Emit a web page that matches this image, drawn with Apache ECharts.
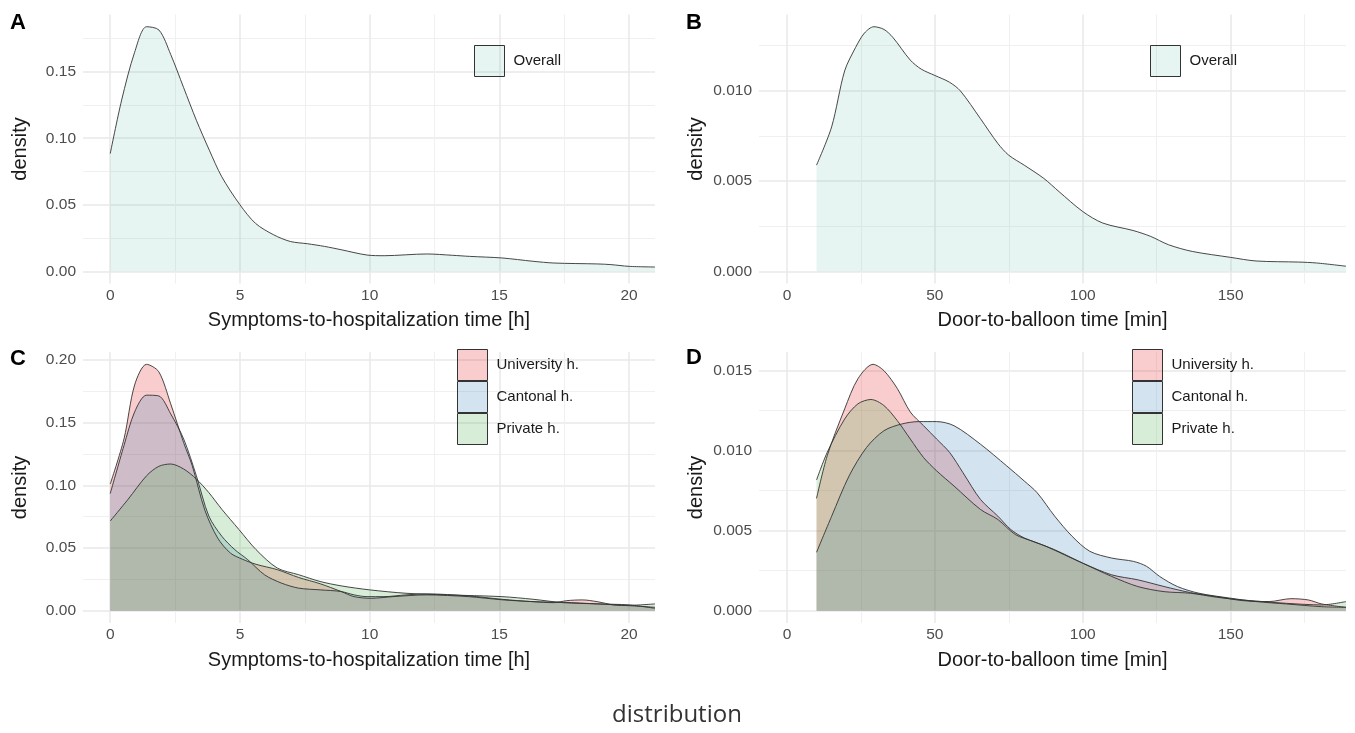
<!DOCTYPE html>
<html>
<head>
<meta charset="utf-8">
<script src="https://cdn.jsdelivr.net/npm/echarts@6/dist/echarts.min.js"></script>
<style>
  html, body { margin: 0; padding: 0; background: #ffffff; }
  #chart { width: 1355px; height: 733px; }
</style>
</head>
<body>
<div id="chart"></div>
<script>
// ---- Tick positions ----
const hourTicks = [0, 5, 10, 15, 20];
const hourMinorTicks = [2.5, 7.5, 12.5, 17.5];
const minuteTicks = [0, 50, 100, 150];
const minuteMinorTicks = [25, 75, 125, 175];
const hourLimits = [0, 21];
const minuteLimits = [0, 189];
const symptomsDensityTicks = [0, 0.05, 0.10, 0.15];
const symptomsDensityTicksByGroup = [0, 0.05, 0.10, 0.15, 0.20];
const symptomsDensityMinor = [0.025, 0.075, 0.125, 0.175];
const balloonDensityTicks = [0, 0.005, 0.010];
const balloonDensityTicksByGroup = [0, 0.005, 0.010, 0.015];
const balloonDensityMinor = [0.0025, 0.0075, 0.0125];

const groups = ['University h.', 'Cantonal h.', 'Private h.'];

// ---- Symptoms-to-hospitalization density, all patients ----
const symptomsAllX = [0, 0.44, 0.94, 1.4, 1.88, 2.33, 2.83, 3.32, 3.82, 4.3, 5, 5.6, 6.3, 6.94, 7.6, 8.26, 8.9, 9.9, 10.56, 12.2, 13.2, 13.85, 15.1, 16.3, 17.1, 18.8, 19.3, 20, 21];
const symptomsAllY = [0.0885, 0.1287, 0.1646, 0.1838, 0.1813, 0.163, 0.138, 0.1135, 0.091, 0.071, 0.05, 0.036, 0.0274, 0.0224, 0.0207, 0.0187, 0.0162, 0.0122, 0.0117, 0.013, 0.012, 0.0112, 0.01, 0.0075, 0.0062, 0.0055, 0.005, 0.0037, 0.0032];

// ---- Door-to-balloon density, all patients ----
const balloonAllX = [10, 15.1, 19.5, 23.2, 26.2, 29.4, 32.8, 35.8, 41.7, 45.4, 50, 54.9, 58.6, 65.4, 71.3, 75, 80.2, 86.8, 92, 100, 106.8, 117, 123, 129, 137, 150, 158.6, 173, 179, 189];
const balloonAllY = [0.00588, 0.0080, 0.0111, 0.0124, 0.0132, 0.01355, 0.0134, 0.01296, 0.0117, 0.0112, 0.01085, 0.01048, 0.0100, 0.00846, 0.00708, 0.00643, 0.00588, 0.00515, 0.00441, 0.00331, 0.00267, 0.00226, 0.00193, 0.00147, 0.0011, 0.00077, 0.00057, 0.00051, 0.00046, 0.00028];

// ---- Symptoms-to-hospitalization density by hospital type ----
const symptomsUniX = [0, 0.53, 0.94, 1.4, 1.87, 2.33, 2.83, 3.16, 3.65, 4.14, 4.63, 5.1, 5.62, 6.44, 7.26, 8.09, 8.9, 9.4, 10.06, 10.9, 12.2, 13.8, 15.15, 16.3, 17.1, 17.6, 18.2, 18.77, 19.4, 20, 21];
const symptomsUniY = [0.101, 0.137, 0.18, 0.1965, 0.1906, 0.165, 0.134, 0.1157, 0.080, 0.058, 0.046, 0.041, 0.037, 0.0327, 0.0265, 0.0215, 0.0153, 0.0112, 0.0099, 0.0112, 0.0126, 0.0112, 0.0086, 0.0072, 0.0064, 0.008, 0.0086, 0.0072, 0.0046, 0.004, 0.0027];
const symptomsCantX = [0, 0.53, 0.94, 1.4, 1.87, 2.33, 2.83, 3.32, 3.8, 4.3, 4.8, 5.3, 5.95, 6.6, 7.26, 8.1, 8.9, 9.4, 9.9, 10.55, 11.4, 12.2, 13.8, 15.1, 16.3, 17.45, 18.8, 20, 21];
const symptomsCantY = [0.0934, 0.1317, 0.1585, 0.1719, 0.1713, 0.157, 0.137, 0.1076, 0.0755, 0.0594, 0.0487, 0.0407, 0.0286, 0.022, 0.018, 0.0166, 0.0153, 0.0126, 0.0112, 0.0112, 0.0126, 0.0134, 0.0118, 0.0091, 0.0072, 0.0067, 0.0054, 0.0046, 0.0019];
const symptomsPrivX = [0, 0.69, 1.4, 1.87, 2.33, 2.83, 3.32, 3.8, 4.3, 4.96, 5.62, 6.44, 7.26, 8.09, 8.9, 10, 11.4, 13, 15.1, 16.3, 17.45, 18.8, 20, 21];
const symptomsPrivY = [0.0715, 0.0889, 0.1076, 0.1151, 0.117, 0.113, 0.105, 0.0942, 0.0809, 0.0648, 0.0487, 0.034, 0.0287, 0.0233, 0.0198, 0.0166, 0.0139, 0.0126, 0.0112, 0.0091, 0.0064, 0.0054, 0.0043, 0.0054];

// ---- Door-to-balloon density by hospital type ----
const balloonUniX = [10, 13.6, 19.5, 24, 29.1, 32.8, 37.3, 41.7, 46.2, 50.6, 55, 59.5, 65.4, 71.3, 75.7, 80.2, 87.6, 100, 109.8, 118.6, 127.5, 136.4, 145.3, 154, 163, 170.4, 176.3, 180.8, 189];
const balloonUniY = [0.00702, 0.00968, 0.01261, 0.0145, 0.0154, 0.0150, 0.01389, 0.01242, 0.01156, 0.01073, 0.00989, 0.00863, 0.00696, 0.00591, 0.00507, 0.00455, 0.00402, 0.00297, 0.00224, 0.00193, 0.00151, 0.00113, 0.00088, 0.00063, 0.00057, 0.00075, 0.00067, 0.00042, 0.00021];
const balloonCantX = [10, 15.1, 21, 26.9, 32.8, 38.8, 44.7, 50.6, 56.5, 65.4, 74.3, 80.2, 84.6, 90.5, 96.4, 102.4, 109.8, 117.2, 121.6, 126, 132, 139.3, 150, 158.6, 168.9, 180.8, 189];
const balloonCantY = [0.00365, 0.0059, 0.00842, 0.0102, 0.01125, 0.01167, 0.01182, 0.01182, 0.01156, 0.01041, 0.00905, 0.00811, 0.00737, 0.00591, 0.00465, 0.00371, 0.00329, 0.00308, 0.00277, 0.00214, 0.00151, 0.00109, 0.00078, 0.00057, 0.00042, 0.00025, 0.00021];
const balloonPrivX = [10, 13.6, 19.5, 24, 28.4, 32.8, 37.3, 41.7, 46.2, 50.6, 56.5, 65.4, 71.3, 77.2, 83.1, 90.5, 100, 109.8, 118.6, 127.5, 136.4, 145.3, 154, 168.9, 180.8, 189];
const balloonPrivY = [0.00817, 0.00989, 0.01198, 0.01293, 0.0132, 0.01282, 0.01188, 0.01073, 0.00957, 0.00874, 0.00779, 0.00633, 0.0057, 0.00476, 0.00434, 0.00381, 0.00297, 0.00214, 0.00151, 0.00119, 0.00109, 0.00084, 0.00067, 0.00046, 0.00036, 0.00057];

// ---- Styling ----
const FONT = '"Liberation Sans", Arial, sans-serif';
const OUTLINE = '#333333';
const fillOverall = 'rgba(102,194,165,0.16)';
const groupFills = ['rgba(228,26,28,0.22)', 'rgba(55,126,184,0.22)', 'rgba(77,175,74,0.22)'];

function pairs(xs, ys) { return xs.map((x, i) => [x, ys[i]]); }
// x axis: padded only on the left
function xRange(lim) { return [lim[0] - (lim[1] - lim[0]) * 0.05, lim[1]]; }
// y axis: density from 0 to the peak, padded 5% on both ends
function yRange(seriesY) {
  const top = Math.max(...seriesY.map(a => Math.max(...a)));
  return [-top * 0.05, top * 1.05];
}

const panels = [
  { grid: { left: 83, top: 14.5, width: 572, height: 269 },
    xLim: xRange(hourLimits), xTicks: hourTicks, xMinor: hourMinorTicks, xName: 'Symptoms-to-hospitalization time [h]',
    yLim: yRange([symptomsAllY]), yTicks: symptomsDensityTicks, yMinor: symptomsDensityMinor, yDigits: 2 },
  { grid: { left: 759, top: 14.5, width: 587, height: 269 },
    xLim: xRange(minuteLimits), xTicks: minuteTicks, xMinor: minuteMinorTicks, xName: 'Door-to-balloon time [min]',
    yLim: yRange([balloonAllY]), yTicks: balloonDensityTicks, yMinor: balloonDensityMinor, yDigits: 3 },
  { grid: { left: 83, top: 352, width: 572, height: 271 },
    xLim: xRange(hourLimits), xTicks: hourTicks, xMinor: hourMinorTicks, xName: 'Symptoms-to-hospitalization time [h]',
    yLim: yRange([symptomsUniY, symptomsCantY, symptomsPrivY]), yTicks: symptomsDensityTicksByGroup, yMinor: symptomsDensityMinor, yDigits: 2 },
  { grid: { left: 759, top: 352, width: 587, height: 271 },
    xLim: xRange(minuteLimits), xTicks: minuteTicks, xMinor: minuteMinorTicks, xName: 'Door-to-balloon time [min]',
    yLim: yRange([balloonUniY, balloonCantY, balloonPrivY]), yTicks: balloonDensityTicksByGroup, yMinor: balloonDensityMinor, yDigits: 3 }
];

const MAJOR_GRID = { color: '#e8e8e8', width: 1.5 };
const MINOR_GRID = { color: '#f0f0f0', width: 1 };

const grids = [], xAxes = [], yAxes = [];
panels.forEach((p, i) => {
  grids.push(Object.assign({ outerBoundsMode: 'none', containLabel: false }, p.grid));
  // major axis: labels + major grid lines
  xAxes.push({
    type: 'value', gridIndex: i, min: p.xLim[0], max: p.xLim[1],
    name: p.xName, nameLocation: 'middle', nameGap: 27,
    nameTextStyle: { fontFamily: FONT, fontSize: 20, color: '#1a1a1a' },
    axisLine: { show: false },
    axisTick: { show: false, customValues: p.xTicks },
    axisLabel: { customValues: p.xTicks, margin: 4, color: '#4d4d4d', fontSize: 15.5, fontFamily: FONT,
                 formatter: v => String(v) },
    splitLine: { show: true, customValues: p.xTicks, lineStyle: MAJOR_GRID }
  });
  // minor grid lines
  xAxes.push({
    type: 'value', gridIndex: i, min: p.xLim[0], max: p.xLim[1], position: 'top',
    axisLine: { show: false },
    axisTick: { show: false, customValues: p.xMinor },
    axisLabel: { show: false },
    splitLine: { show: true, customValues: p.xMinor, lineStyle: MINOR_GRID }
  });
  yAxes.push({
    type: 'value', gridIndex: i, min: p.yLim[0], max: p.yLim[1],
    name: 'density', nameLocation: 'middle', nameGap: 53, nameRotate: 90,
    nameTextStyle: { fontFamily: FONT, fontSize: 20, color: '#1a1a1a' },
    axisLine: { show: false },
    axisTick: { show: false, customValues: p.yTicks },
    axisLabel: { customValues: p.yTicks, margin: 7, color: '#4d4d4d', fontSize: 15.5, fontFamily: FONT,
                 formatter: v => v.toFixed(p.yDigits) },
    splitLine: { show: true, customValues: p.yTicks, lineStyle: MAJOR_GRID }
  });
  yAxes.push({
    type: 'value', gridIndex: i, min: p.yLim[0], max: p.yLim[1], position: 'right',
    axisLine: { show: false },
    axisTick: { show: false, customValues: p.yMinor },
    axisLabel: { show: false },
    splitLine: { show: true, customValues: p.yMinor, lineStyle: MINOR_GRID }
  });
});

function densitySeries(name, panel, xs, ys, fill) {
  return {
    type: 'line', name, xAxisIndex: panel * 2, yAxisIndex: panel * 2,
    data: pairs(xs, ys), smooth: 0.3, symbol: 'none', showSymbol: false,
    lineStyle: { color: OUTLINE, width: 0.9 },
    itemStyle: { color: fill },
    areaStyle: { color: fill, opacity: 1 },
    emphasis: { disabled: true }, silent: true, animation: false
  };
}

const series = [
  densitySeries('Overall', 0, symptomsAllX, symptomsAllY, fillOverall),
  densitySeries('Overall', 1, balloonAllX, balloonAllY, fillOverall),
  densitySeries(groups[0], 2, symptomsUniX, symptomsUniY, groupFills[0]),
  densitySeries(groups[1], 2, symptomsCantX, symptomsCantY, groupFills[1]),
  densitySeries(groups[2], 2, symptomsPrivX, symptomsPrivY, groupFills[2]),
  densitySeries(groups[0], 3, balloonUniX, balloonUniY, groupFills[0]),
  densitySeries(groups[1], 3, balloonCantX, balloonCantY, groupFills[1]),
  densitySeries(groups[2], 3, balloonPrivX, balloonPrivY, groupFills[2])
];

function legendBlock(left, top, names, fills) {
  return {
    left, top, padding: 0, orient: 'vertical', icon: 'rect', itemWidth: 30, itemHeight: 31, itemGap: 0,
    selectedMode: false,
    textStyle: { fontFamily: FONT, fontSize: 15, color: '#1a1a1a', padding: [0, 0, 0, 4] },
    data: names.map((n, i) => ({ name: n, itemStyle: { color: fills[i], borderColor: OUTLINE, borderWidth: 1 } }))
  };
}

function tag(text, x, y) {
  return { type: 'text', x, y, silent: true,
    style: { text, font: 'bold 22px ' + FONT, fill: '#000000', align: 'center', verticalAlign: 'middle' } };
}

const chart = echarts.init(document.getElementById('chart'), null, { renderer: 'canvas' });
chart.setOption({
  animation: false,
  backgroundColor: '#ffffff',
  grid: grids,
  xAxis: xAxes,
  yAxis: yAxes,
  legend: [
    legendBlock(474, 45, ['Overall'], [fillOverall]),
    legendBlock(1150, 45, ['Overall'], [fillOverall]),
    legendBlock(457, 349, groups, groupFills),
    legendBlock(1132, 349, groups, groupFills)
  ],
  series,
  graphic: [
    tag('A', 18, 23), tag('B', 694, 23), tag('C', 18, 359), tag('D', 694, 358),
    { type: 'text', x: 677, y: 715, silent: true,
      style: { text: 'distribution', font: '24px "Open Sans", "Noto Sans", sans-serif', fill: '#333333',
               align: 'center', verticalAlign: 'middle' } }
  ]
});
</script>
</body>
</html>
